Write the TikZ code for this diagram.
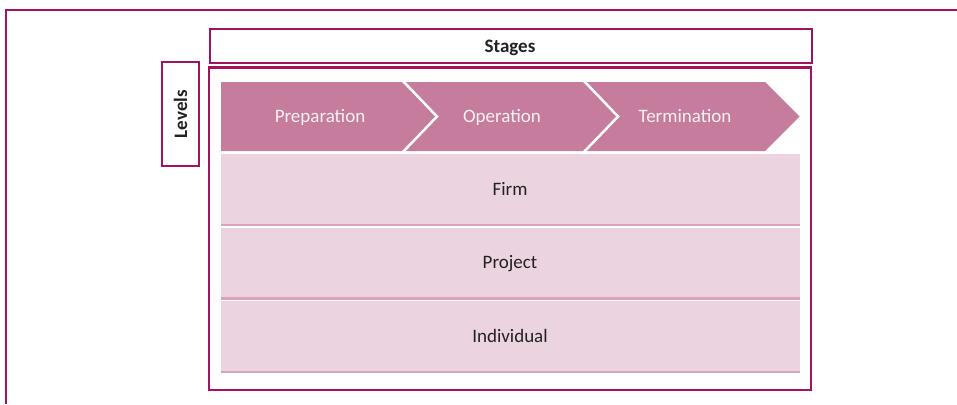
\documentclass[tikz,border=0pt]{standalone}
\usepackage{fontspec}
\setmainfont{Carlito}
\definecolor{framecol}{HTML}{A3125F}
\definecolor{chevcol}{HTML}{C67D9D}
\definecolor{chevtext}{HTML}{FAF0F5}
\definecolor{rowcol}{HTML}{EBD3DF}
\definecolor{rowline}{HTML}{D9A3BA}
\definecolor{textcol}{HTML}{222222}
\tikzset{
  frameline/.style={draw=framecol, line width=2.2pt},
  labelfont/.style={font=\fontsize{19}{23}\selectfont},
  boldfont/.style={font=\fontsize{19}{23}\selectfont\bfseries},
  boxlabel/.style={frameline, text=textcol, inner sep=0pt},
  chevlabel/.style={labelfont, text=chevtext, inner sep=0pt, anchor=base},
  rowlabel/.style={labelfont, text=textcol, inner sep=0pt, anchor=base},
  rowbox/.style={fill=rowcol, inner sep=0pt,
    minimum width=579pt, minimum height=72pt, anchor=north west},
  chevshape/.style={fill=chevcol},
  sepline/.style={draw=white, line width=2.5pt},
}
\begin{document}
\begin{tikzpicture}[x=1pt, y=-1pt]
\useasboundingbox (0,0) rectangle (957,404);

% outer frame (continues past the page edges)
\coordinate (fA) at (6,404);
\coordinate (fB) at (6,10);
\coordinate (fC) at (957,10);
\draw[frameline] (fA) -- (fB) -- (fC);

% header box and main box
\node[boxlabel, minimum width=602pt, minimum height=34pt, anchor=north west]
  (stages) at (209,28) {};
\node[boldfont, text=textcol, inner sep=0pt, anchor=base] (stagestext) at (510,52.5) {Stages};
\coordinate (mainNW) at (209,67.5);
\coordinate (mainSE) at (811,390);
\draw[frameline] (mainNW) rectangle (mainSE);

% levels box
\node[boxlabel, boldfont, rotate=90, minimum width=104pt, minimum height=37pt]
  (levels) at (180.5,114) {Levels};

% process chevrons
\fill[chevshape] (221,82) -- (402,82) -- (437,116.5) -- (402,151) -- (221,151) -- cycle;
\fill[chevshape] (402,82) -- (583,82) -- (618,116.5) -- (583,151) -- (402,151) -- (437,116.5) -- cycle;
\fill[chevshape] (583,82) -- (765,82) -- (799.5,116.5) -- (765,151) -- (583,151) -- (618,116.5) -- cycle;
\coordinate (s1a) at (402,80);
\coordinate (s1b) at (437,116.5);
\coordinate (s1c) at (402,153);
\coordinate (s2a) at (583,80);
\coordinate (s2b) at (618,116.5);
\coordinate (s2c) at (583,153);
\draw[sepline] (s1a) -- (s1b) -- (s1c);
\draw[sepline] (s2a) -- (s2b) -- (s2c);
\node[chevlabel] (prep) at (320,122) {Preparation};
\node[chevlabel] (oper) at (502,122) {Operation};
\node[chevlabel] (term) at (685,122) {Termination};

% level rows
\node[rowbox] (firm) at (221,154) {};
\node[rowbox] (proj) at (221,227.5) {};
\node[rowbox] (indiv) at (221,301) {};
\foreach \r in {firm,proj,indiv}{
  \draw[draw=rowline, line width=2.5pt] ([yshift=1.25pt]\r.south west) -- ([yshift=1.25pt]\r.south east);
}
\node[rowlabel] (firmtext) at (510,195) {Firm};
\node[rowlabel] (projtext) at (510,268) {Project};
\node[rowlabel] (indivtext) at (510,342) {Individual};
\end{tikzpicture}
\end{document}
